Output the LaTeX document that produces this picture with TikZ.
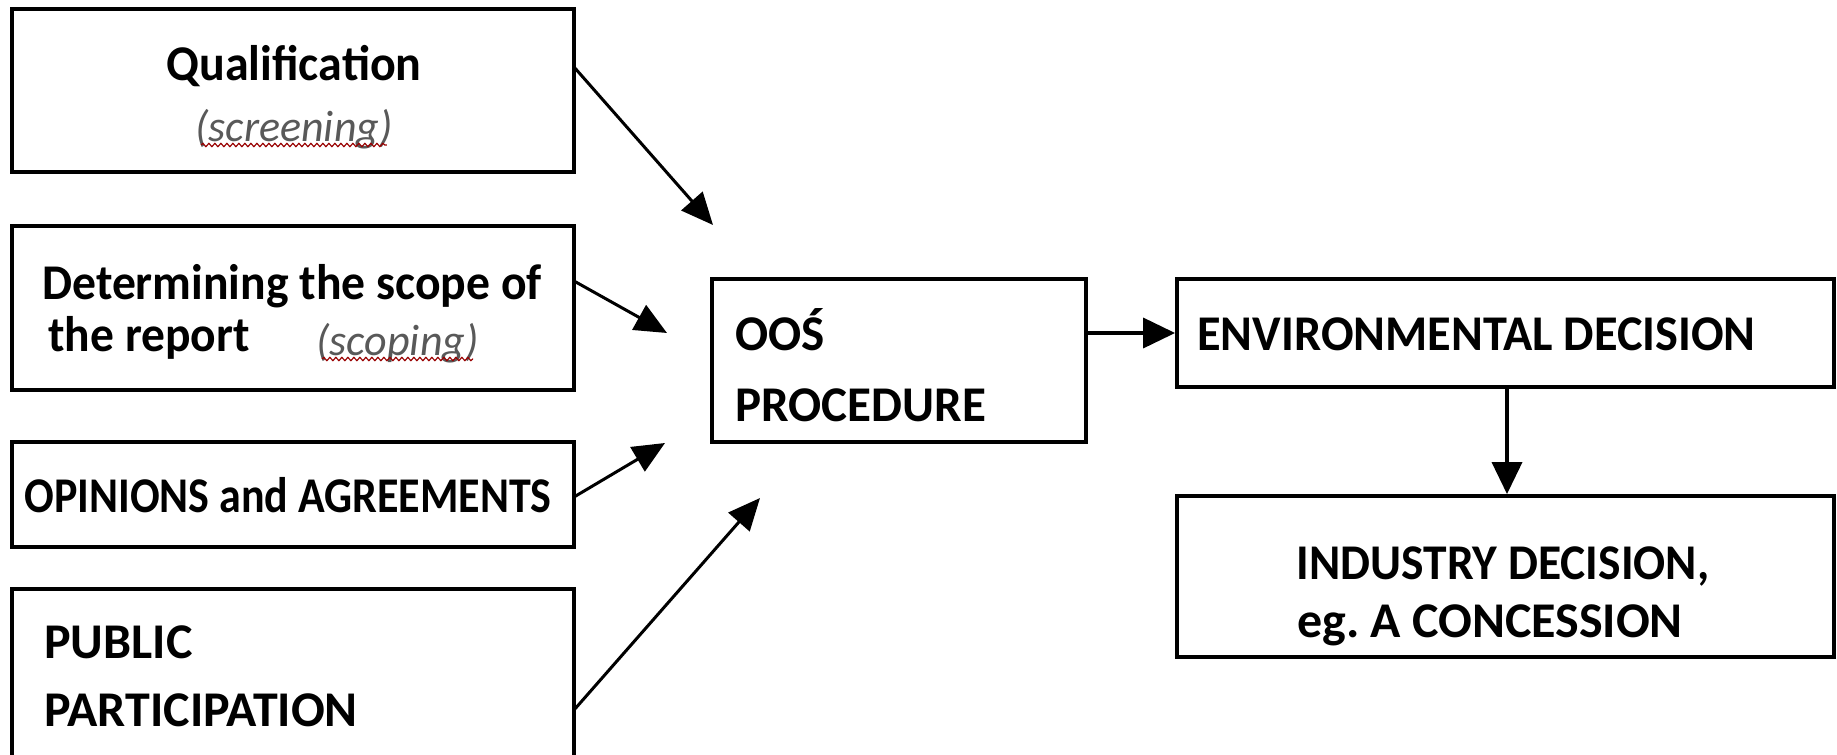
\documentclass[tikz,border=0pt]{standalone}
\usepackage{fontspec}
\setmainfont{Carlito}
\usetikzlibrary{arrows.meta,decorations.pathmorphing}
\begin{document}
\begin{tikzpicture}[x=0.5pt,y=-0.5pt,
  box/.style={draw,line width=1.9pt,inner sep=0pt,minimum width=281pt},
  lbl/.style={inner sep=0pt,font=\fontsize{25}{30}\selectfont\bfseries},
  note/.style={inner sep=0pt,font=\fontsize{22}{26}\selectfont\itshape,text=black!65},
  squig/.style={draw=red!60!black,line width=0.6pt,decorate,decoration={snake,amplitude=0.8pt,segment length=3pt}},
  arr/.style={line width=1.5pt,-{Triangle[length=16pt,width=14pt]}},
  arrs/.style={line width=1.8pt,-{Triangle[length=16pt,width=15pt]}}]
\useasboundingbox (0,0) rectangle (1837,755);
\fill[white] (0,0) rectangle (1837,755);
% boxes
\node[box,minimum height=81.5pt] (q) at (293,90.5) {};
\node[box,minimum height=82pt] (d) at (293,308) {};
\node[box,minimum height=52.5pt] (o) at (293,494.5) {};
\node[box,minimum height=85.5pt] (p) at (293,674.5) {};
\node[box,minimum width=187pt,minimum height=81.5pt] (oos) at (899,360.5) {};
\node[box,minimum width=328.5pt,minimum height=54pt] (env) at (1505.5,333) {};
\node[box,minimum width=328.5pt,minimum height=80.5pt] (ind) at (1505.5,576.5) {};
% texts
\node[lbl,anchor=base] (qt) at (294,80) {\scalebox{0.96}[1]{Qualification}};
\node[note,anchor=base] (qn) at (294,141) {(screening)};
\node[lbl,anchor=base west] (dt1) at (42,299) {\scalebox{0.953}[1]{Determining the scope of}};
\node[lbl,anchor=base west] (dt2) at (48,351) {\scalebox{0.95}[1]{the report}};
\node[note,anchor=base west] (dn) at (316,355) {(scoping)};
\node[lbl,anchor=base] (ot) at (288,512) {\scalebox{0.88}[1]{OPINIONS and AGREEMENTS}};
\node[lbl,anchor=base west] (pt1) at (44,658) {PUBLIC};
\node[lbl,anchor=base west] (pt2) at (44,726) {PARTICIPATION};
\node[lbl,anchor=base west] (oo1) at (735,350) {\scalebox{0.98}[1]{OOŚ}};
\node[lbl,anchor=base west] (oo2) at (735,421) {\scalebox{0.98}[1]{PROCEDURE}};
\node[lbl,anchor=base west] (et) at (1197,350) {\scalebox{0.966}[1]{ENVIRONMENTAL DECISION}};
\node[lbl,anchor=base] (it1) at (1503,579) {\scalebox{0.95}[1]{INDUSTRY DECISION,}};
\node[lbl,anchor=base] (it2) at (1490,637) {eg.\ A CONCESSION};
\path[squig] ([xshift=3pt,yshift=-2pt]qn.base west) -- ([xshift=-3pt,yshift=-2pt]qn.base east);
\path[squig] ([xshift=3pt,yshift=-2pt]dn.base west) -- ([xshift=-3pt,yshift=-2pt]dn.base east);
% arrow ends
\coordinate (qs) at (574,67);   \coordinate (qe) at (713,225);
\coordinate (ds) at (574,281);  \coordinate (de) at (667,333);
\coordinate (os) at (574,497);  \coordinate (oe) at (665,443);
\coordinate (ps) at (574,710);  \coordinate (pe) at (760,498);
\draw[arr] (qs) -- (qe);
\draw[arr] (ds) -- (de);
\draw[arr] (os) -- (oe);
\draw[arr] (ps) -- (pe);
\draw[arrs] (oos.east |- env.west) -- (env.west);
\coordinate (es) at (1507,387);
\draw[arrs] (es) -- (es |- ind.north);
\end{tikzpicture}
\end{document}
